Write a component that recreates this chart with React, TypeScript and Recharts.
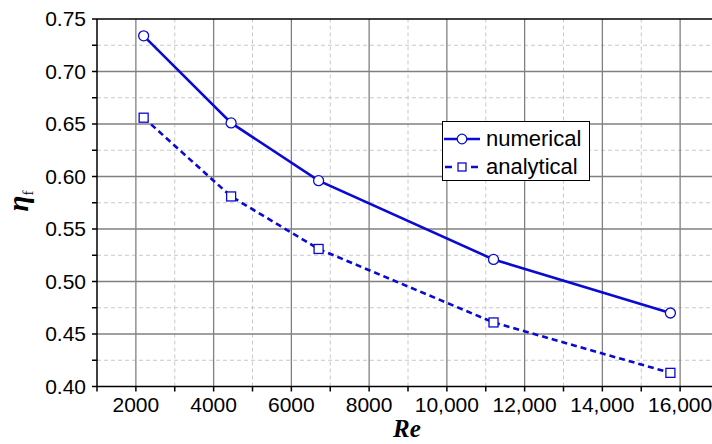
import React from 'react';
import { LineChart, Line, XAxis, YAxis, ReferenceLine, Label } from 'recharts';

const reValues = [2200, 4450, 6700, 11200, 15750];
const numerical = [0.734, 0.651, 0.596, 0.521, 0.47];
const analytical = [0.656, 0.581, 0.531, 0.461, 0.413];
const seriesNames = ['numerical', 'analytical'];

const xTicks = [1000, 2000, 3000, 4000, 5000, 6000, 7000, 8000, 9000, 10000, 11000, 12000, 13000, 14000, 15000, 16000, 17000];
const xMajorGrid = [2000, 4000, 6000, 8000, 10000, 12000, 14000, 16000];
const xMinorGrid = [3000, 5000, 7000, 9000, 11000, 13000, 15000];
const yTicks = [0.4, 0.425, 0.45, 0.475, 0.5, 0.525, 0.55, 0.575, 0.6, 0.625, 0.65, 0.675, 0.7, 0.725, 0.75];
const yMajorGrid = [0.45, 0.5, 0.55, 0.6, 0.65, 0.7];
const yMinorGrid = [0.425, 0.475, 0.525, 0.575, 0.625, 0.675, 0.725];

const data = reValues.map((re, i) => ({ re, numerical: numerical[i], analytical: analytical[i] }));

const BLUE = '#0a0ad2';
const SANS = '"Liberation Sans", Arial, sans-serif';
const SERIF = '"Liberation Serif", "Times New Roman", serif';

const formatX = (v: number) => {
  if (v % 2000 !== 0 || v < 2000 || v > 16000) return '';
  return v >= 10000 ? v.toLocaleString('en-US') : String(v);
};
const formatY = (v: number) => {
  const r = Math.round(v * 1000);
  return r % 50 === 0 ? v.toFixed(2) : '';
};

const SquareDot = (props: any) => {
  const { cx, cy } = props;
  if (cx == null || cy == null) return null;
  return <rect x={cx - 4.5} y={cy - 4.5} width={9} height={9} fill="#fff" stroke={BLUE} strokeWidth={1.3} />;
};

const LegendBox = () => (
  <div
    style={{
      position: 'absolute',
      left: 442,
      top: 121,
      width: 146,
      height: 58,
      border: '1.5px solid #000',
      background: '#fff',
      fontFamily: SANS,
      fontSize: 22,
      lineHeight: '22px',
      color: '#000',
    }}
  >
    <div style={{ position: 'absolute', left: 0, top: 5, display: 'flex', alignItems: 'center', height: 24 }}>
      <svg width={42} height={20}>
        <line x1={1} y1={10} x2={37} y2={10} stroke={BLUE} strokeWidth={2.6} />
        <circle cx={19} cy={10} r={4.8} fill="#fff" stroke={BLUE} strokeWidth={1.3} />
      </svg>
      <span style={{ marginLeft: 1 }}>{seriesNames[0]}</span>
    </div>
    <div style={{ position: 'absolute', left: 0, top: 33, display: 'flex', alignItems: 'center', height: 24 }}>
      <svg width={42} height={20}>
        <line x1={1} y1={10} x2={37} y2={10} stroke={BLUE} strokeWidth={2.6} strokeDasharray="7 6" strokeDashoffset={-1} />
        <rect x={15} y={6} width={8} height={8} fill="#fff" stroke={BLUE} strokeWidth={1.3} />
      </svg>
      <span style={{ marginLeft: 1 }}>{seriesNames[1]}</span>
    </div>
  </div>
);

export default function App() {
  return (
    <>
      <style>{'html,body{margin:0;padding:0;overflow:hidden;background:#fff}'}</style>
      <div style={{ width: 712, height: 444, overflow: 'hidden', background: '#fff', position: 'relative' }}>
        <LineChart width={719} height={444} data={data} margin={{ top: 19, right: 0, bottom: 0, left: 0 }}>
          {xMinorGrid.map((v) => (
            <ReferenceLine key={'xm' + v} x={v} stroke="#c8c8c8" strokeDasharray="4 3" strokeWidth={1} />
          ))}
          {yMinorGrid.map((v) => (
            <ReferenceLine key={'ym' + v} y={v} stroke="#c8c8c8" strokeDasharray="4 3" strokeWidth={1} />
          ))}
          {xMajorGrid.map((v) => (
            <ReferenceLine key={'xM' + v} x={v} stroke="#808080" strokeWidth={1.3} />
          ))}
          {yMajorGrid.map((v) => (
            <ReferenceLine key={'yM' + v} y={v} stroke="#808080" strokeWidth={1.3} />
          ))}
          <ReferenceLine y={0.75} stroke="#000" strokeWidth={1.5} />
          <XAxis
            dataKey="re"
            type="number"
            domain={[1000, 17000]}
            ticks={xTicks}
            interval={0}
            tickFormatter={formatX}
            height={57.5}
            stroke="#000"
            strokeWidth={1.5}
            tickSize={5}
            tickMargin={6}
            tick={{ fill: '#000', fontSize: 21, fontFamily: SANS }}
            allowDataOverflow
          >
            <Label
              content={() => (
                <text x={407} y={437} textAnchor="middle" fontFamily={SERIF} fontWeight="bold" fontStyle="italic" fontSize={25} fill="#000">
                  Re
                </text>
              )}
            />
          </XAxis>
          <YAxis
            type="number"
            domain={[0.4, 0.75]}
            ticks={yTicks}
            interval={0}
            tickFormatter={formatY}
            width={97}
            stroke="#000"
            strokeWidth={1.5}
            tickSize={5}
            tickMargin={6}
            tick={{ fill: '#000', fontSize: 21, fontFamily: SANS }}
            allowDataOverflow
          >
            <Label
              content={() => (
                <text
                  x={28}
                  y={201}
                  transform="rotate(-90 28 201)"
                  textAnchor="middle"
                  fontFamily={SERIF}
                  fontWeight="bold"
                  fontStyle="italic"
                  fontSize={29}
                  fill="#000"
                >
                  η
                  <tspan fontSize={15} fontStyle="normal" fontWeight="normal" dy={5}>f</tspan>
                </text>
              )}
            />
          </YAxis>
          <Line
            type="linear"
            dataKey="analytical"
            stroke={BLUE}
            strokeWidth={2.6}
            strokeDasharray="6 4"
            dot={<SquareDot />}
            activeDot={false}
            isAnimationActive={false}
          />
          <Line
            type="linear"
            dataKey="numerical"
            stroke={BLUE}
            strokeWidth={2.6}
            dot={{ r: 5, fill: '#fff', stroke: BLUE, strokeWidth: 1.3 }}
            activeDot={false}
            isAnimationActive={false}
          />
        </LineChart>
        <LegendBox />
      </div>
    </>
  );
}
